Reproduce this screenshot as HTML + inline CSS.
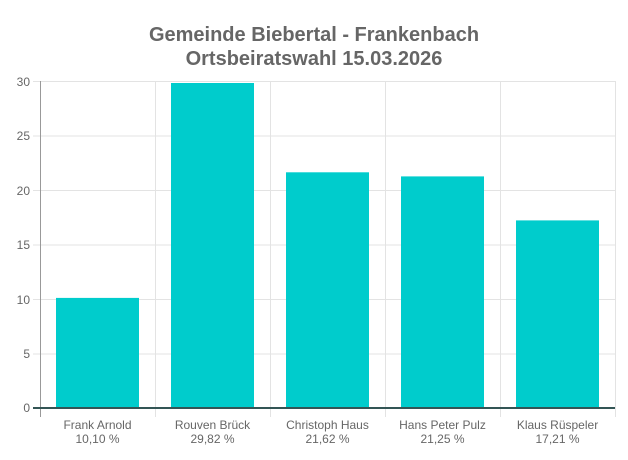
<!DOCTYPE html><html><head><style>body{margin:0;background:#fff}</style></head><body>
<svg width="628" height="455" xmlns="http://www.w3.org/2000/svg" font-family="Liberation Sans, Arial, sans-serif">
<rect width="628" height="455" fill="#fff"/>
<text x="314" y="41" text-anchor="middle" font-size="20" font-weight="bold" fill="#666">Gemeinde Biebertal - Frankenbach</text>
<text x="314" y="65" text-anchor="middle" font-size="20" font-weight="bold" fill="#666">Ortsbeiratswahl 15.03.2026</text>
<g stroke="#e3e3e3" stroke-width="1">
<line x1="33" y1="81.5" x2="615" y2="81.5"/><line x1="33" y1="136" x2="615" y2="136"/><line x1="33" y1="190.5" x2="615" y2="190.5"/><line x1="33" y1="245" x2="615" y2="245"/><line x1="33" y1="299.5" x2="615" y2="299.5"/><line x1="33" y1="354" x2="615" y2="354"/>
<line x1="155.5" y1="81" x2="155.5" y2="417"/><line x1="270.5" y1="81" x2="270.5" y2="417"/><line x1="385.5" y1="81" x2="385.5" y2="417"/><line x1="500.5" y1="81" x2="500.5" y2="417"/><line x1="615.5" y1="81" x2="615.5" y2="417"/>
</g>
<line x1="40.5" y1="81" x2="40.5" y2="417" stroke="#999"/>
<g fill="#00cccc">
<rect x="56" y="297.9" width="83" height="110.1"/>
<rect x="171" y="83" width="83" height="325"/>
<rect x="286" y="172.3" width="83" height="235.7"/>
<rect x="401" y="176.4" width="83" height="231.6"/>
<rect x="516" y="220.4" width="83" height="187.6"/>
</g>
<line x1="33" y1="408" x2="615" y2="408" stroke="#335555" stroke-width="2"/>
<g font-size="12" fill="#666" text-anchor="end">
<text x="30" y="86">30</text><text x="30" y="140">25</text><text x="30" y="195">20</text><text x="30" y="249">15</text><text x="30" y="304">10</text><text x="30" y="358">5</text><text x="30" y="412">0</text>
</g>
<g font-size="12" fill="#666" text-anchor="middle">
<text x="97.5" y="429">Frank Arnold</text><text x="97.5" y="443">10,10 %</text>
<text x="212.5" y="429">Rouven Brück</text><text x="212.5" y="443">29,82 %</text>
<text x="327.5" y="429">Christoph Haus</text><text x="327.5" y="443">21,62 %</text>
<text x="442.5" y="429">Hans Peter Pulz</text><text x="442.5" y="443">21,25 %</text>
<text x="557.5" y="429">Klaus Rüspeler</text><text x="557.5" y="443">17,21 %</text>
</g>
</svg>
</body></html>
